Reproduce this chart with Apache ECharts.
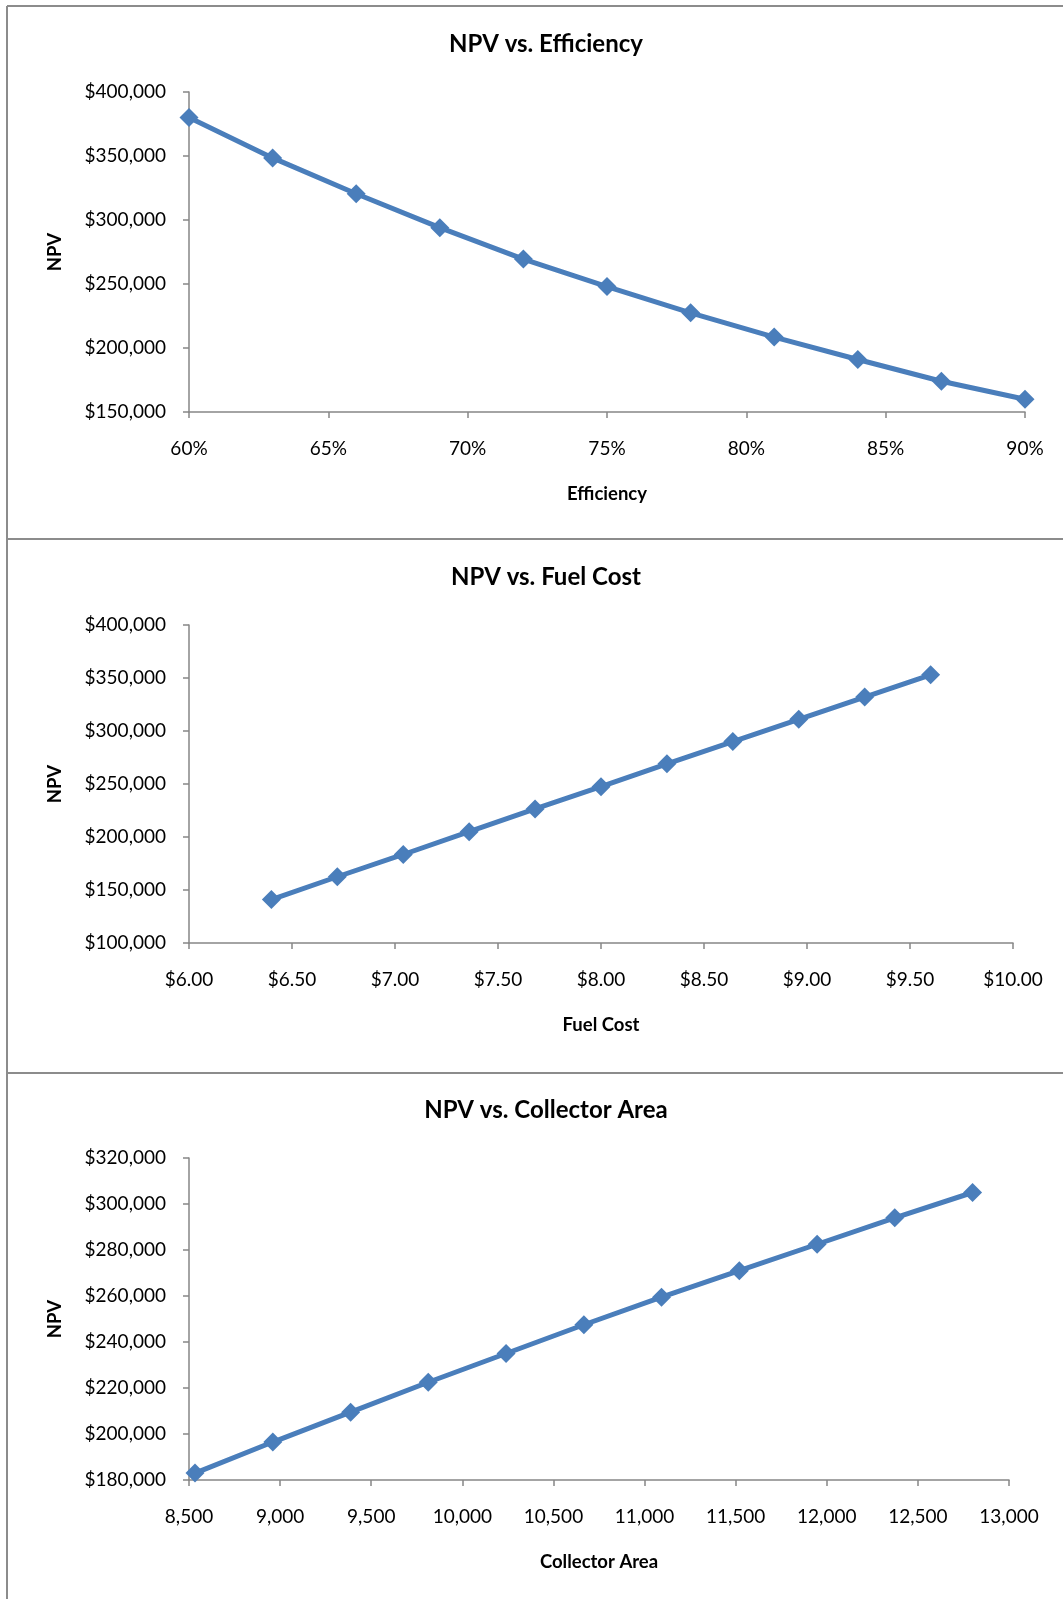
<!DOCTYPE html>
<html>
<head>
<meta charset="utf-8">
<script src="https://cdn.jsdelivr.net/npm/echarts@6/dist/echarts.min.js"></script>
<style>
  html, body { margin: 0; padding: 0; background: #fff; }
  #chart { width: 1063px; height: 1599px; }
</style>
</head>
<body>
<div id="chart"></div>
<script>
// ---- Data ----
var titles = ['NPV vs. Efficiency', 'NPV vs. Fuel Cost', 'NPV vs. Collector Area'];
var xNames = ['Efficiency', 'Fuel Cost', 'Collector Area'];
var yName = 'NPV';

var efficiency = [60, 63, 66, 69, 72, 75, 78, 81, 84, 87, 90];           // percent
var npvEfficiency = [380000, 348500, 320500, 294000, 269500, 248000, 227500, 208500, 191000, 174000, 160000];

var fuelCost = [6.40, 6.72, 7.04, 7.36, 7.68, 8.00, 8.32, 8.64, 8.96, 9.28, 9.60];
var npvFuelCost = [141000, 162500, 183500, 205000, 226500, 247500, 269000, 290000, 311000, 332000, 353000];

var collectorArea = [8533, 8960, 9387, 9813, 10240, 10667, 11093, 11520, 11947, 12373, 12800];
var npvCollectorArea = [183000, 196500, 209500, 222500, 235000, 247500, 259500, 271000, 282500, 294000, 305000];

// axis ranges / tick steps
var xMin = [60, 6, 8500], xMax = [90, 10, 13000], xStep = [5, 0.5, 500];
var yMin = [150000, 100000, 180000], yMax = [400000, 400000, 320000], yStep = [50000, 50000, 20000];

function zip(xs, ys) { return xs.map(function (x, i) { return [x, ys[i]]; }); }
var seriesData = [zip(efficiency, npvEfficiency), zip(fuelCost, npvFuelCost), zip(collectorArea, npvCollectorArea)];

var xFormatters = [
  function (v) { return v + '%'; },
  function (v) { return '$' + v.toFixed(2); },
  function (v) { return v.toLocaleString('en-US'); }
];
function money(v) { return '$' + v.toLocaleString('en-US'); }

// ---- Layout ----
var FONT = 'Lato, "Open Sans", sans-serif';
var AXIS_COLOR = '#868686';
var LINE_COLOR = '#4a7ebb';
var grids = [
  { left: 189, top: 92, width: 836, height: 320 },
  { left: 189, top: 625, width: 824, height: 318 },
  { left: 189, top: 1158, width: 820, height: 322 }
];
var titleTops = [27, 560, 1093];

var option = {
  backgroundColor: '#ffffff',
  animation: false,
  title: titles.map(function (t, i) {
    return {
      text: t, left: 541, top: titleTops[i], textAlign: 'center',
      textStyle: { fontFamily: FONT, fontWeight: 'bold', fontSize: 24, color: '#000' }
    };
  }),
  grid: grids.map(function (g) { return Object.assign({ containLabel: false }, g); }),
  xAxis: [0, 1, 2].map(function (i) {
    return {
      type: 'value', gridIndex: i, min: xMin[i], max: xMax[i], interval: xStep[i],
      name: xNames[i], nameLocation: 'middle', nameGap: 73,
      nameTextStyle: { fontFamily: FONT, fontWeight: 'bold', fontSize: 18.5, color: '#000' },
      axisLine: { show: true, onZero: false, lineStyle: { color: AXIS_COLOR, width: 1.5 } },
      axisTick: { show: true, inside: false, length: 6, lineStyle: { color: AXIS_COLOR, width: 1.5 } },
      axisLabel: { formatter: xFormatters[i], margin: 27, fontFamily: FONT, fontSize: 19, color: '#000', showMinLabel: true, showMaxLabel: true },
      splitLine: { show: false }
    };
  }),
  yAxis: [0, 1, 2].map(function (i) {
    return {
      type: 'value', gridIndex: i, min: yMin[i], max: yMax[i], interval: yStep[i],
      name: yName, nameLocation: 'middle', nameGap: 124, nameRotate: 90,
      nameTextStyle: { fontFamily: FONT, fontWeight: 'bold', fontSize: 18.5, color: '#000' },
      axisLine: { show: true, onZero: false, lineStyle: { color: AXIS_COLOR, width: 1.5 } },
      axisTick: { show: true, inside: false, length: 6, lineStyle: { color: AXIS_COLOR, width: 1.5 } },
      axisLabel: { formatter: money, margin: 23, fontFamily: FONT, fontSize: 19, color: '#000' },
      splitLine: { show: false }
    };
  }),
  series: [0, 1, 2].map(function (i) {
    return {
      type: 'line', xAxisIndex: i, yAxisIndex: i, data: seriesData[i],
      symbol: 'diamond', symbolSize: 19, showAllSymbol: true,
      lineStyle: { color: LINE_COLOR, width: 5 },
      itemStyle: { color: LINE_COLOR },
      emphasis: { disabled: true }
    };
  }),
  graphic: [
    { type: 'line', shape: { x1: 7, y1: 6, x2: 1063, y2: 6 }, style: { stroke: '#8c8c8c', lineWidth: 2 } },
    { type: 'line', shape: { x1: 7, y1: 539, x2: 1063, y2: 539 }, style: { stroke: '#8c8c8c', lineWidth: 2 } },
    { type: 'line', shape: { x1: 7, y1: 1073, x2: 1063, y2: 1073 }, style: { stroke: '#8c8c8c', lineWidth: 2 } },
    { type: 'line', shape: { x1: 7, y1: 6, x2: 7, y2: 1599 }, style: { stroke: '#8c8c8c', lineWidth: 2 } }
  ]
};

var chart = echarts.init(document.getElementById('chart'), null, { renderer: 'canvas' });
chart.setOption(option);
</script>
</body>
</html>
